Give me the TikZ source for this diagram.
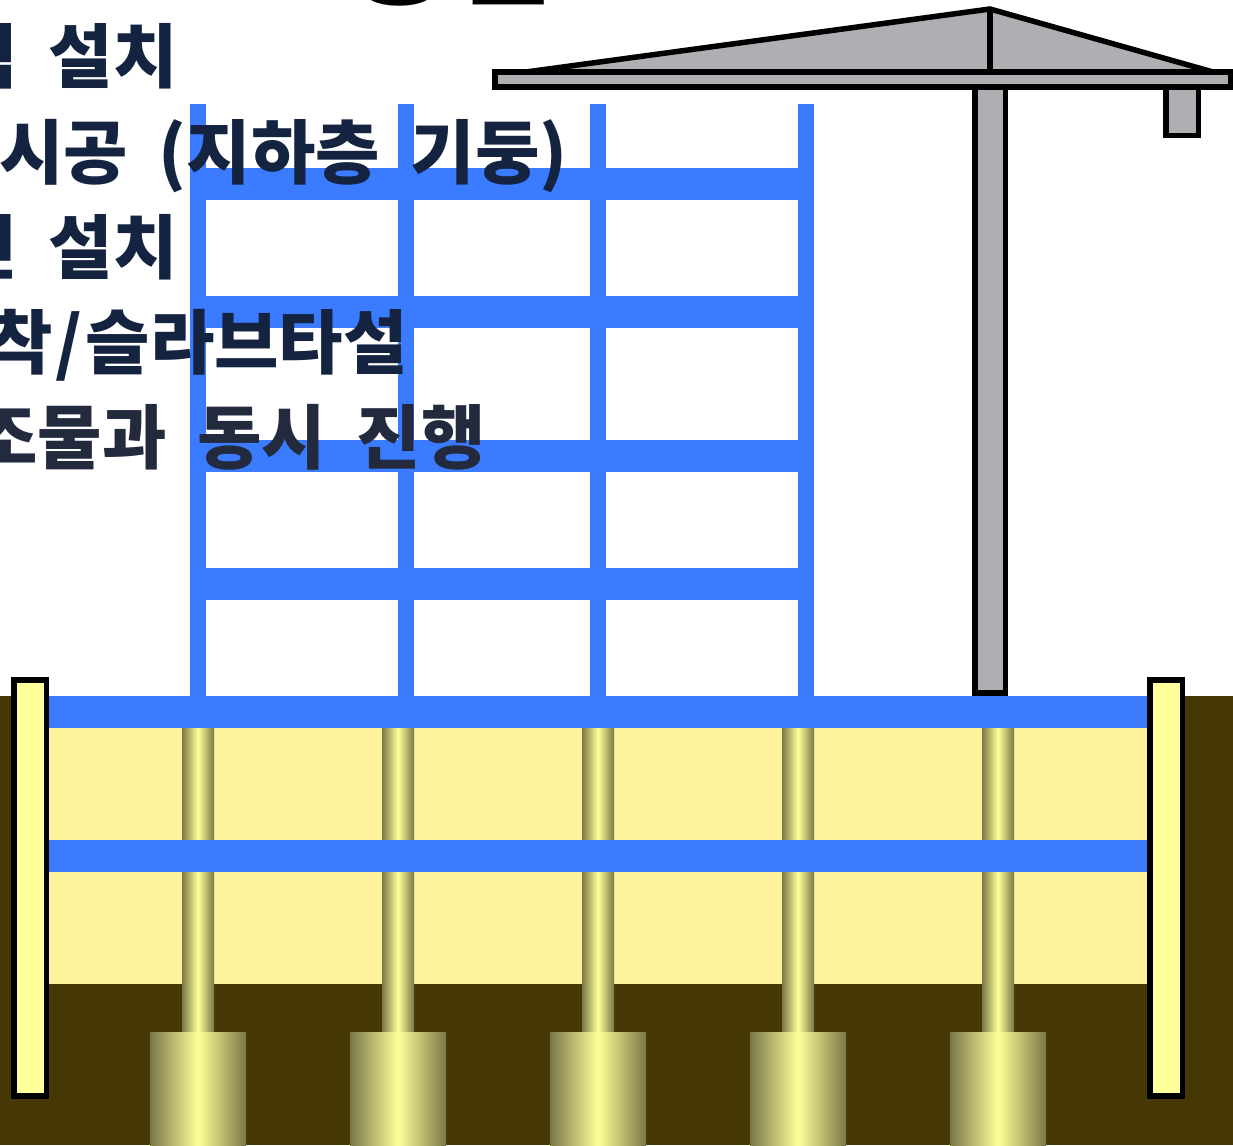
\documentclass[tikz,border=0pt]{standalone}
\usepackage{fontspec}
\newfontfamily\krfont{Noto Sans CJK KR}
\newcommand\wgap{\hspace{0.44em}}
\definecolor{soil}{RGB}{70,57,5}
\definecolor{pit}{RGB}{254,241,156}
\definecolor{wallfill}{RGB}{255,255,153}
\definecolor{slabblue}{RGB}{58,123,255}
\definecolor{steel}{RGB}{174,175,179}
\definecolor{olive}{RGB}{122,120,72}
\definecolor{ink}{RGB}{20,35,64}
\definecolor{inksoft}{RGB}{35,42,62}
\begin{document}
\begin{tikzpicture}[x=1pt,y=-1pt,
  outlined/.style={draw=black,line width=5.5pt},
  wallbox/.style={outlined,fill=wallfill},
  steelpart/.style={outlined,fill=steel},
  concrete/.style={fill=slabblue},
  pile/.style={left color=olive,right color=olive,middle color=wallfill},
  steptext/.style={font=\krfont\bfseries\fontsize{70}{80}\selectfont,
    text=ink,inner sep=0pt,anchor=base east},
  headline/.style={font=\krfont\bfseries\fontsize{112}{130}\selectfont,
    text=black,inner sep=0pt,anchor=base east}]
\useasboundingbox (0,0) rectangle (1233,1145);

% ground and excavated pit
\fill[soil] (0,696) rectangle (1233,1145);
\fill[pit] (46,696) rectangle (1150,984);

% piles with footings
\foreach \cx in {198,398,598,798,998}{
  \shade[pile] (\cx-16,712) rectangle (\cx+16,1032);
  \shade[pile] (\cx-48,1032) rectangle (\cx+48,1145);
}

% basement slabs
\fill[concrete] (46,696) rectangle (1150,728);
\fill[concrete] (46,840) rectangle (1150,872);

% retaining walls
\draw[wallbox] (13.75,680) rectangle (46.25,1096);
\draw[wallbox] (1149.75,680) rectangle (1182.25,1096);

% superstructure frame
\foreach \cx in {198,406,598,806}{
  \fill[concrete] (\cx-8,104) rectangle (\cx+8,696);
}
\foreach \by in {168,296,440,568}{
  \fill[concrete] (190,\by) rectangle (814,\by+32);
}

% tower crane
\draw[steelpart] (974.75,80) rectangle (1005.25,693);
\draw[steelpart] (1165.75,80) rectangle (1198.25,135.25);
\draw[steelpart] (526,72) -- (990,9) -- (1213,72) -- cycle;
\draw[outlined] (990,9) -- (990,72);
\draw[steelpart] (495,72) rectangle (1230.25,87);

% headline and construction steps
\node[headline] (title) at (555,-4) {TOP-DOWN\wgap 공법};
\node[steptext] (s1) at (178,83) {지하연속벽\wgap 설치};
\node[steptext] (s2) at (568,178) {철골기둥\wgap 시공\wgap (지하층\wgap 기둥)};
\node[steptext] (s3) at (178,273) {타워크레인\wgap 설치};
\node[steptext] (s4) at (408,368) {지하\wgap 굴착\kern3pt/\kern3pt 슬라브타설};
\node[steptext,text=inksoft] (s5) at (486,463) {지상\wgap 구조물과\wgap 동시\wgap 진행};
\end{tikzpicture}
\end{document}
